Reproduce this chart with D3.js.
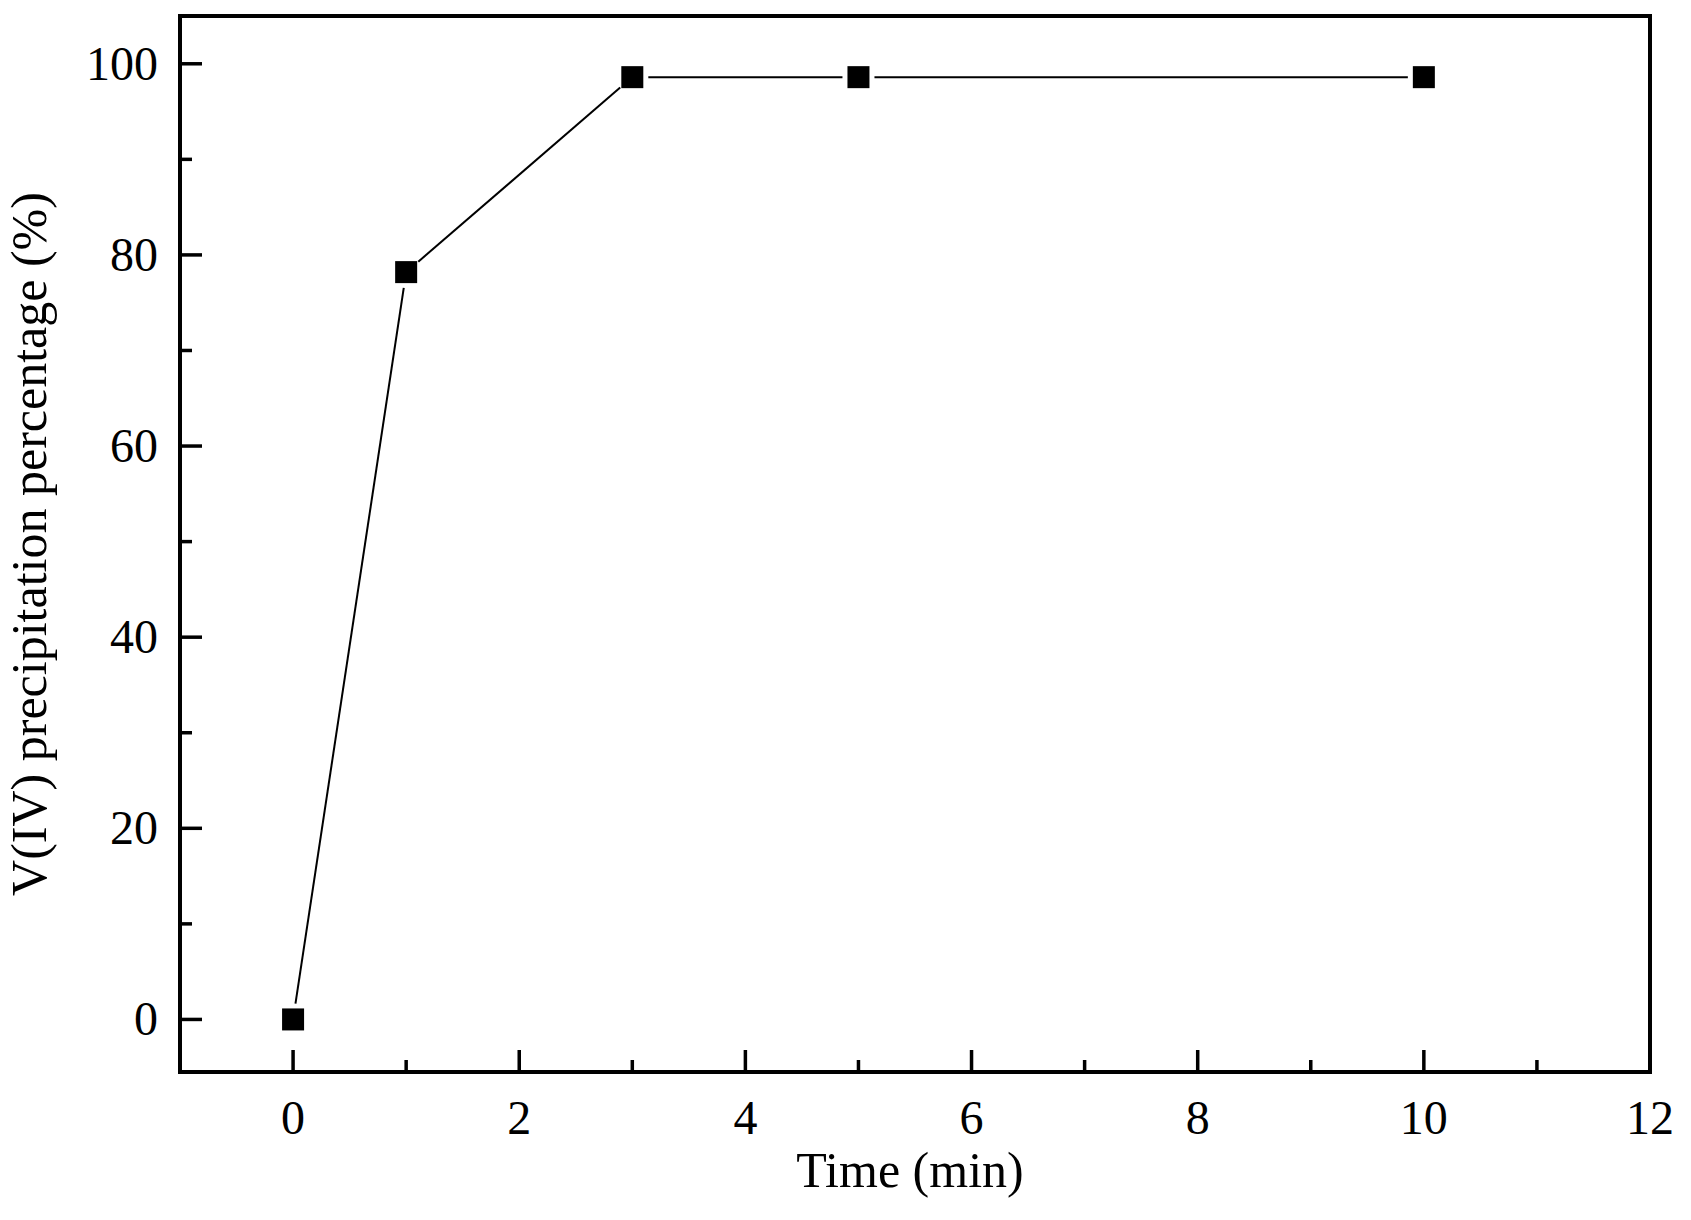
<!DOCTYPE html>
<html><head><meta charset="utf-8">
<script src="https://cdn.jsdelivr.net/npm/d3@7"></script>
<style>body{margin:0;background:#fff}text{font-family:"Liberation Serif","Times New Roman",serif}</style>
</head><body><div id="container"></div>
<script>
var times = [0, 1, 3, 5, 10];
var percents = [0, 78.2, 98.6, 98.6, 98.6];
var xTicks = [0, 2, 4, 6, 8, 10, 12];
var yTicks = [0, 20, 40, 60, 80, 100];

var W = 1691, H = 1220,
	mLeft = 180, mRight = 1650, mTop = 16, mBottom = 1072;

var x = d3.scaleLinear().domain([-1, 12]).range([mLeft, mRight]),
	y = d3.scaleLinear().domain([-5.5, 105]).range([mBottom, mTop]);

var svg = d3.select('#container').append('svg').attr('width', W).attr('height', H);

//ticks inward, minor between majors
function tickSet(axis){
	var maj = axis === 'x' ? xTicks : yTicks, step = maj[1] - maj[0], all = [];
	var s = axis === 'x' ? x : y, d = s.domain();
	for (var v = maj[0] - step/2; v <= maj[maj.length-1] + 0.01; v += step/2) all.push(v);
	return all.filter(function(v){ return v >= d[0] - 0.01 && v <= d[1] + 0.01; });
}
var g = svg.append('g').attr('stroke', '#000').attr('stroke-width', 3.5);
tickSet('x').forEach(function(v){
	var len = xTicks.indexOf(v) >= 0 ? 22 : 12;
	g.append('line').attr('x1', x(v)).attr('x2', x(v)).attr('y1', mBottom).attr('y2', mBottom - len);
});
tickSet('y').forEach(function(v){
	var len = yTicks.indexOf(v) >= 0 ? 22 : 12;
	g.append('line').attr('x1', mLeft).attr('x2', mLeft + len).attr('y1', y(v)).attr('y2', y(v));
});
svg.append('rect').attr('x', mLeft).attr('y', mTop).attr('width', mRight - mLeft).attr('height', mBottom - mTop)
	.attr('fill', 'none').attr('stroke', '#000').attr('stroke-width', 4);

svg.selectAll('text.xt').data(xTicks).enter().append('text')
	.attr('x', function(d){ return x(d); }).attr('y', mBottom + 62)
	.attr('text-anchor', 'middle').attr('font-size', 48).text(function(d){ return d; });
svg.selectAll('text.yt').data(yTicks).enter().append('text')
	.attr('x', mLeft - 22).attr('y', function(d){ return y(d) + 16; })
	.attr('text-anchor', 'end').attr('font-size', 48).text(function(d){ return d; });

svg.append('text').attr('x', (mLeft + mRight)/2 - 5).attr('y', mBottom + 115)
	.attr('text-anchor', 'middle').attr('font-size', 50).text('Time (min)');
svg.append('text').attr('transform', 'translate(46,' + ((mTop + mBottom)/2) + ')rotate(-90)')
	.attr('text-anchor', 'middle').attr('font-size', 50).text('V(IV) precipitation percentage (%)');

// line segments with gaps near markers
var gap = 16;
for (var i = 0; i < times.length - 1; i++){
	var x1 = x(times[i]), y1 = y(percents[i]), x2 = x(times[i+1]), y2 = y(percents[i+1]);
	var L = Math.hypot(x2 - x1, y2 - y1), ux = (x2 - x1)/L, uy = (y2 - y1)/L;
	svg.append('line').attr('x1', x1 + ux*gap).attr('y1', y1 + uy*gap)
		.attr('x2', x2 - ux*gap).attr('y2', y2 - uy*gap)
		.attr('stroke', '#000').attr('stroke-width', 2);
}
svg.selectAll('rect.pt').data(times).enter().append('rect')
	.attr('x', function(d){ return x(d) - 11; })
	.attr('y', function(d, i){ return y(percents[i]) - 11; })
	.attr('width', 22).attr('height', 22).attr('fill', '#000');
</script></body></html>
